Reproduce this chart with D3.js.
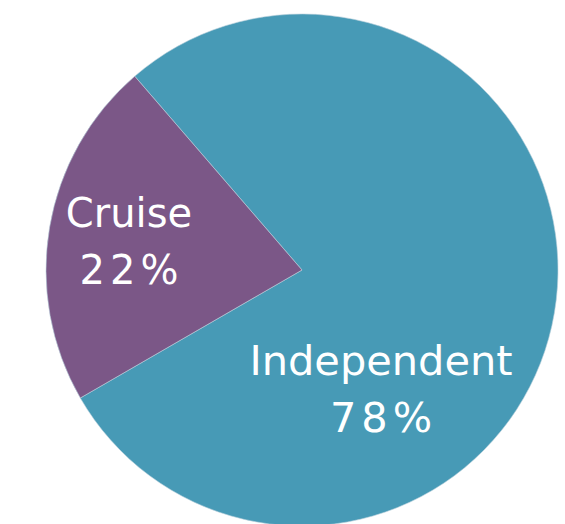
<!DOCTYPE html>
<html>
<head>
<meta charset="utf-8">
<script src="https://cdn.jsdelivr.net/npm/d3@7"></script>
<style>
  body { margin: 0; background: #fff; }
  svg { display: block; }
  .label { fill: #fff; font-family: "DejaVu Sans", sans-serif; text-anchor: middle; }
</style>
</head>
<body>
<div id="chart"></div>
<script>
var categories = ["Independent", "Cruise"];
var shares = [78, 22];
var colors = ["#479AB6", "#7B5787"];

var width = 565, height = 524;
var cx = 302, cy = 270, radius = 256;

var data = categories.map((c, i) => ({name: c, value: shares[i], color: colors[i]}));

var svg = d3.select('#chart').append('svg')
  .attr('width', width)
  .attr('height', height);

var g = svg.append('g')
  .attr('transform', `translate(${cx}, ${cy})`);

// independent slice starts up-left, runs clockwise
var start = -40.8 * Math.PI / 180;
var pie = d3.pie()
  .sort(null)
  .value(d => d.value)
  .startAngle(start)
  .endAngle(start + 2 * Math.PI);

var arc = d3.arc().innerRadius(0).outerRadius(radius);

g.selectAll('.slice')
  .data(pie(data))
  .enter()
  .append('path')
  .attr('class', 'slice')
  .attr('d', arc)
  .attr('fill', d => d.data.color)
  .attr('stroke', '#b8d0dc')
  .attr('stroke-width', 0.6);

// label positions (relative to centre) and sizes
var labelPos = {
  "Independent": {x: 79, y: 105, size: 41.5},
  "Cruise": {x: -173, y: -43, size: 40}
};

data.forEach(function(d) {
  var p = labelPos[d.name];
  var t = g.append('text')
    .attr('class', 'label')
    .attr('x', p.x)
    .attr('y', p.y)
    .style('font-size', p.size + 'px');
  t.append('tspan').attr('x', p.x).text(d.name);
  // percentages are set a little wider in the original
  t.append('tspan').attr('x', p.x + 2.5).attr('dy', 57)
    .style('letter-spacing', '5px')
    .text(d.value + '%');
});
</script>
</body>
</html>
